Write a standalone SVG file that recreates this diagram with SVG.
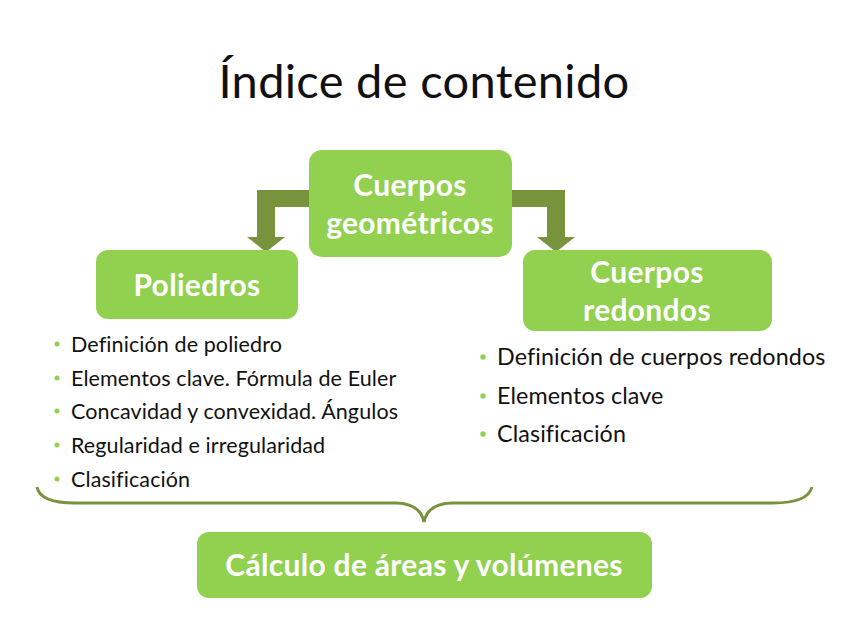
<svg xmlns="http://www.w3.org/2000/svg" width="848" height="636" viewBox="0 0 848 636">
<style>
.box{fill:#92D050;}
.bt{font-family:Lato,"Open Sans","Liberation Sans",sans-serif;font-weight:bold;fill:#fff;text-anchor:middle;font-size:30px;letter-spacing:0.3px;}
.li{font-family:Lato,"Open Sans","Liberation Sans",sans-serif;fill:#111;}
.dot{fill:#92D050;}
.arr{fill:#77933C;}
</style>
<rect width="848" height="636" fill="#fff"/>
<text x="424" y="98" style="font-family:Lato,'Open Sans','Liberation Sans',sans-serif;font-size:47px;letter-spacing:0.3px;fill:#111" text-anchor="middle">Índice de contenido</text>
<g id="connectors">
<polygon class="arr" points="310,190 257,190 257,237 247,237 266,252 285,237 275,237 275,207 310,207"/>
<polygon class="arr" points="511,190 565,190 565,237 575,237 556,252 537,237 547,237 547,207 511,207"/>
<path d="M37,487 Q40,503 75,503 L395,503 Q420,503 424,522 Q428,503 453,503 L773,503 Q808,503 812,487" fill="none" stroke="#77933C" stroke-width="3"/>
</g>
<g id="cuerpos-geometricos">
<rect class="box" x="309" y="150" width="203" height="107" rx="13"/>
<text class="bt" x="410" y="196">Cuerpos</text>
<text class="bt" x="410" y="234">geométricos</text>
</g>
<g id="poliedros">
<rect class="box" x="96" y="250" width="202" height="69" rx="12"/>
<text class="bt" x="197" y="296">Poliedros</text>
</g>
<g id="cuerpos-redondos">
<rect class="box" x="523" y="250" width="249" height="81" rx="12"/>
<text class="bt" x="647" y="283">Cuerpos</text>
<text class="bt" x="647" y="321">redondos</text>
</g>
<g id="lista-poliedros" class="li" font-size="21.5" letter-spacing="0.1">
<circle class="dot" cx="57" cy="344" r="2.5"/><text x="71" y="352">Definición de poliedro</text>
<circle class="dot" cx="57" cy="378" r="2.5"/><text x="71" y="386">Elementos clave. Fórmula de Euler</text>
<circle class="dot" cx="57" cy="411" r="2.5"/><text x="71" y="419">Concavidad y convexidad. Ángulos</text>
<circle class="dot" cx="57" cy="445" r="2.5"/><text x="71" y="453">Regularidad e irregularidad</text>
<circle class="dot" cx="57" cy="479" r="2.5"/><text x="71" y="487">Clasificación</text>
</g>
<g id="lista-redondos" class="li" font-size="23.3" letter-spacing="0.1">
<circle class="dot" cx="483" cy="357" r="2.7"/><text x="497" y="365">Definición de cuerpos redondos</text>
<circle class="dot" cx="483" cy="396" r="2.7"/><text x="497" y="404">Elementos clave</text>
<circle class="dot" cx="483" cy="434" r="2.7"/><text x="497" y="442">Clasificación</text>
</g>
<g id="calculo">
<rect class="box" x="197" y="532" width="455" height="66" rx="12"/>
<text class="bt" x="424" y="576">Cálculo de áreas y volúmenes</text>
</g>
</svg>
